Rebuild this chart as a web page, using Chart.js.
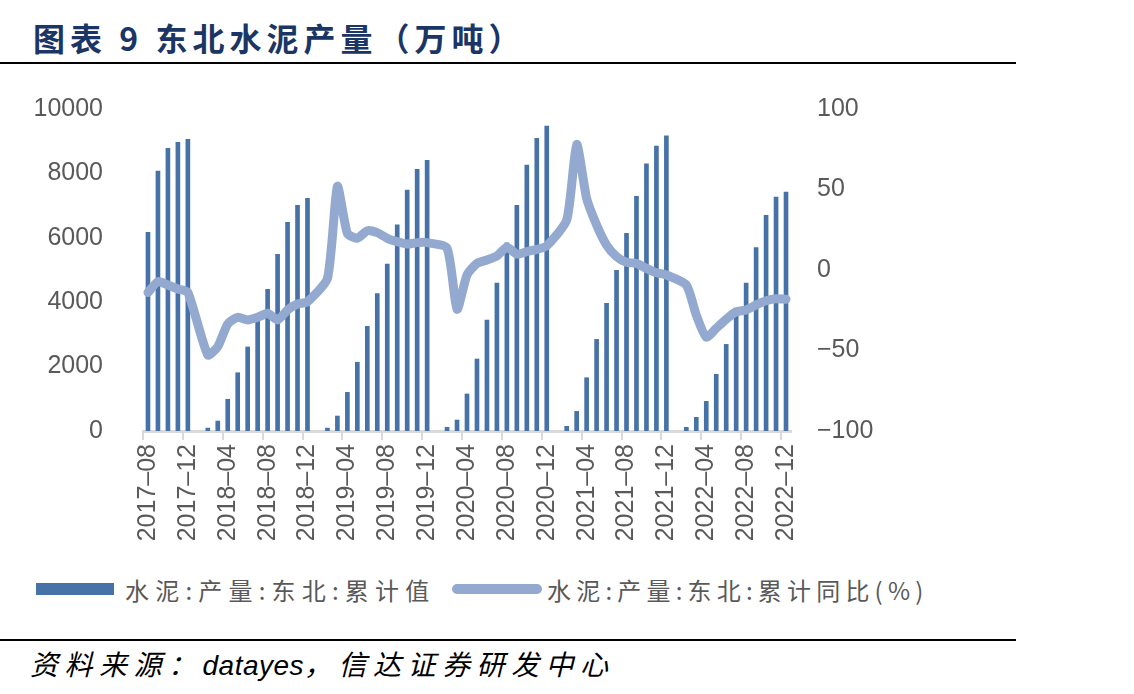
<!DOCTYPE html>
<html><head><meta charset="utf-8">
<script src="https://cdn.jsdelivr.net/npm/chart.js@4/dist/chart.umd.min.js"></script>
<style>
html,body{margin:0;padding:0;background:#fff;width:1134px;height:694px;overflow:hidden;font-family:"Liberation Sans",Arial,sans-serif;}
#title{position:absolute;left:33px;top:17px;font-family:"Noto Sans CJK SC";font-weight:bold;font-size:32px;color:#1B3564;letter-spacing:5px;white-space:nowrap;line-height:40px;}
#rule1{position:absolute;left:0;top:62px;width:1016px;height:2px;background:#000;}
#rule2{position:absolute;left:0;top:639px;width:1016px;height:2px;background:#000;}
#chartBox{position:absolute;left:0;top:0;width:1134px;height:560px;}
.leg{position:absolute;top:575px;font-family:"Noto Sans CJK SC";font-size:24px;color:#595959;white-space:nowrap;line-height:30px;}
#sw1{position:absolute;left:36px;top:583px;width:78px;height:12px;background:#4672A8;}
#sw2{position:absolute;left:452px;top:584px;width:90px;height:10px;border-radius:5px;background:#94A9D0;}
#src{position:absolute;left:30px;top:645px;font-family:"Noto Sans CJK SC";font-style:italic;font-size:28px;color:#000;white-space:nowrap;line-height:36px;letter-spacing:6.5px;}
#src span{letter-spacing:0.5px;font-family:"Liberation Sans",Arial,sans-serif;}
</style></head>
<body>
<div id="title">图表 9 东北水泥产量（万吨）</div>
<div id="rule1"></div>
<div id="chartBox"><canvas id="c" width="1134" height="560"></canvas></div>
<div id="sw1"></div><div class="leg" style="left:125px;letter-spacing:6.2px">水泥:产量:东北:累计值</div>
<div id="sw2"></div><div class="leg" style="left:547px;letter-spacing:5.2px">水泥:产量:东北:累计同比(%)</div>
<div id="rule2"></div>
<div id="src">资料来源：<span>datayes</span>，信达证券研发中心</div>
<script>
const categories = [
"2017-08","2017-09","2017-10","2017-11","2017-12",
"2018-01","2018-02","2018-03","2018-04","2018-05","2018-06","2018-07","2018-08","2018-09","2018-10","2018-11","2018-12",
"2019-01","2019-02","2019-03","2019-04","2019-05","2019-06","2019-07","2019-08","2019-09","2019-10","2019-11","2019-12",
"2020-01","2020-02","2020-03","2020-04","2020-05","2020-06","2020-07","2020-08","2020-09","2020-10","2020-11","2020-12",
"2021-01","2021-02","2021-03","2021-04","2021-05","2021-06","2021-07","2021-08","2021-09","2021-10","2021-11","2021-12",
"2022-01","2022-02","2022-03","2022-04","2022-05","2022-06","2022-07","2022-08","2022-09","2022-10","2022-11","2022-12"
];
const cumulativeOutput = [
6170, 8075, 8780, 8965, 9060,
null, 90, 310, 985, 1810, 2610, 3480, 4400, 5490, 6480, 7010, 7225,
null, 90, 465, 1200, 2135, 3250, 4265, 5185, 6400, 7485, 8125, 8405,
null, 115, 340, 1150, 2235, 3445, 4595, 5840, 7010, 8260, 9090, 9470,
null, 145, 610, 1655, 2845, 3965, 4990, 6140, 7290, 8300, 8850, 9170,
null, 115, 425, 920, 1760, 2690, 3650, 4595, 5695, 6700, 7265, 7420
];
const cumulativeYoY = [
-14, -7.2, -9.3, -11.8, -13.9,
null, -52.8, -47.6, -33.5, -29.4, -31, -29.4, -26.9, -31, -24.8, -21.1, -19.7,
null, -5.2, 52, 22.8, 19.7, 24.4, 23.2, 19.7, 17.6, 16.1, 17, 17,
null, 13.5, -24.4, -3.1, 4.1, 6.2, 8.7, 14.1, 9.9, 11.4, 12.8, 15,
null, 31, 78, 44.5, 28, 15.5, 8.3, 4.8, 4.1, 1, -1.7, -3.1,
null, -9.3, -28, -41.8, -36.2, -30.6, -25.9, -24.8, -21.7, -19.1, -17.8, -18.2
];
const leftTicks = [0, 2000, 4000, 6000, 8000, 10000];
const rightTicks = [-100, -50, 0, 50, 100];
const seriesNames = ["水泥:产量:东北:累计值", "水泥:产量:东北:累计同比(%)"];

const axisGray = '#595959';
new Chart(document.getElementById('c'), {
  data: {
    labels: categories,
    datasets: [
      {type:'line', label: seriesNames[1], data: cumulativeYoY, yAxisID:'y1', order:0,
       borderColor:'#94A9D0', backgroundColor:'#94A9D0', borderWidth:9, pointRadius:0, pointHoverRadius:0,
       tension:0.2, spanGaps:true, borderJoinStyle:'round', borderCapStyle:'round'},
      {type:'bar', label: seriesNames[0], data: cumulativeOutput, yAxisID:'y', order:1,
       backgroundColor:'#4672A8', barThickness:4}
    ]
  },
  options: {
    responsive:false, devicePixelRatio:1, animation:false,
    layout:{padding:{top:109, left:0, right:0, bottom:0}},
    plugins:{legend:{display:false}, tooltip:{enabled:false}},
    scales:{
      x:{type:'category', offset:true,
         grid:{offset:true, drawOnChartArea:false, drawTicks:true, tickLength:9, lineWidth:2,
               color:(ctx)=> (ctx.index % 4 === 0) ? '#D9D9D9' : 'rgba(0,0,0,0)'},
         border:{display:true, color:'#D9D9D9', width:3},
         ticks:{autoSkip:false, minRotation:90, maxRotation:90, padding:4, color:axisGray,
                font:{family:'"Liberation Sans", Arial, sans-serif', size:25},
                callback:function(v, i){ return i % 4 === 0 ? categories[i].replace('-', '–') : ''; }},
         afterFit:(s)=>{ s.height = 129; }
      },
      y:{position:'left', min:0, max:10000,
         afterBuildTicks:(s)=>{ s.ticks = leftTicks.map(v=>({value:v})); },
         grid:{display:false}, border:{display:false},
         ticks:{padding:32, color:axisGray, font:{family:'"Liberation Sans", Arial, sans-serif', size:25},
                callback:(v)=>String(v)},
         afterFit:(s)=>{ s.width = 143; }
      },
      y1:{position:'right', min:-100, max:100,
         afterBuildTicks:(s)=>{ s.ticks = rightTicks.map(v=>({value:v})); },
         grid:{display:false}, border:{display:false},
         ticks:{padding:18, color:axisGray, font:{family:'"Liberation Sans", Arial, sans-serif', size:25},
                callback:(v)=>String(v).replace('-', '−')},
         afterFit:(s)=>{ s.width = 343; }
      }
    }
  }
});
</script>
</body></html>
